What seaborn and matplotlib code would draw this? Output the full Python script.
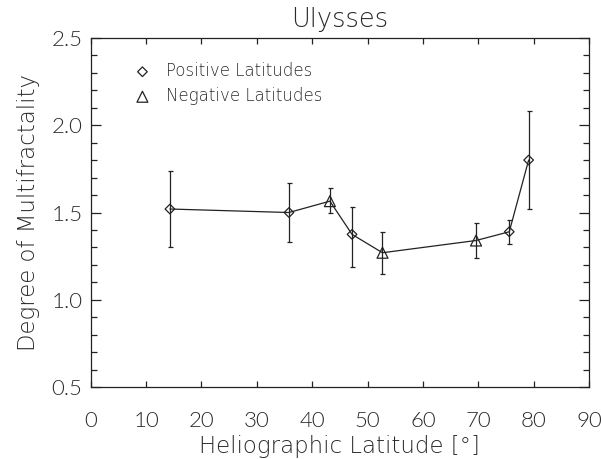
import matplotlib
matplotlib.use("Agg")
import matplotlib.pyplot as plt
import seaborn as sns
import pandas as pd
from matplotlib.ticker import MultipleLocator

# ---- data ----
latitude = [14.3, 35.8, 43.2, 47.2, 52.7, 69.6, 75.6, 79.1]
multifractality = [1.52, 1.50, 1.565, 1.375, 1.27, 1.34, 1.39, 1.80]
err_upper = [1.74, 1.67, 1.64, 1.53, 1.39, 1.44, 1.46, 2.08]
err_lower = [1.30, 1.33, 1.50, 1.19, 1.15, 1.24, 1.32, 1.52]
hemisphere = ["Positive", "Positive", "Negative", "Positive",
              "Negative", "Negative", "Positive", "Positive"]
legend_labels = {"Positive": "Positive Latitudes", "Negative": "Negative Latitudes"}
x_ticks = [0, 10, 20, 30, 40, 50, 60, 70, 80, 90]
y_ticks = [0.5, 1.0, 1.5, 2.0, 2.5]

df = pd.DataFrame({"lat": latitude, "val": multifractality,
                   "hi": err_upper, "lo": err_lower, "hemi": hemisphere})

sns.set_theme(style="ticks")
plt.rcParams["font.family"] = ["Lato", "DejaVu Sans"]
W = 300
plt.rcParams["font.weight"] = W
plt.rcParams["axes.labelweight"] = W
plt.rcParams["axes.titleweight"] = W
ink = "#222222"
txt = "#2a2a2a"
wide = dict(family=["DejaVu Sans"], weight=200)

fig = plt.figure(figsize=(6.01, 4.59), dpi=100)
ax = fig.add_axes([0.151, 0.156, 0.829, 0.762])

# connecting line
sns.lineplot(data=df, x="lat", y="val", sort=False, color=ink, lw=0.9, ax=ax,
             estimator=None, legend=False)

# error bars
ax.errorbar(df["lat"], df["val"],
            yerr=[df["val"] - df["lo"], df["hi"] - df["val"]],
            fmt="none", ecolor=ink, elinewidth=0.9, capsize=1.8, capthick=0.9)

# markers
for hemi, mk, s in [("Positive", "D", 24), ("Negative", "^", 62)]:
    sub = df[df["hemi"] == hemi]
    sns.scatterplot(data=sub, x="lat", y="val", marker=mk, s=s,
                    facecolors="none", edgecolors=ink, linewidths=0.9,
                    label=legend_labels[hemi], ax=ax, zorder=5)

ax.set_xlim(0, 90)
ax.set_ylim(0.5, 2.5)
ax.set_xticks(x_ticks)
ax.set_yticks(y_ticks)
ax.set_yticklabels([f"{v:.1f}" for v in y_ticks])
ax.yaxis.set_minor_locator(MultipleLocator(0.1))

ax.tick_params(axis="both", which="both", direction="in", colors=ink,
               labelcolor=txt, labelsize=16, top=True, right=True, width=0.9)
ax.tick_params(axis="x", which="major", length=4.3, pad=17)
ax.tick_params(axis="y", which="major", length=7.2, pad=6)
ax.tick_params(axis="y", which="minor", length=4.3)
for sp in ax.spines.values():
    sp.set_color(ink)
    sp.set_linewidth(0.9)

ax.set_xlabel("Heliographic Latitude [°]", fontsize=16.5, color=txt, labelpad=3, **wide)
ax.set_ylabel("Degree of Multifractality", fontsize=16.5, color=txt, labelpad=8, **wide)
ax.set_title("Ulysses", fontsize=18.5, color=txt, pad=8, **wide)

leg = ax.legend(frameon=False, loc="upper left", bbox_to_anchor=(0.087, 0.93),
                borderaxespad=0, borderpad=0, handlelength=1.0,
                handletextpad=0.92, labelspacing=0.42,
                prop=dict(family=["DejaVu Sans"], weight=200, size=12))
for t in leg.get_texts():
    t.set_color(txt)

fig.savefig("out.png", dpi=100)
